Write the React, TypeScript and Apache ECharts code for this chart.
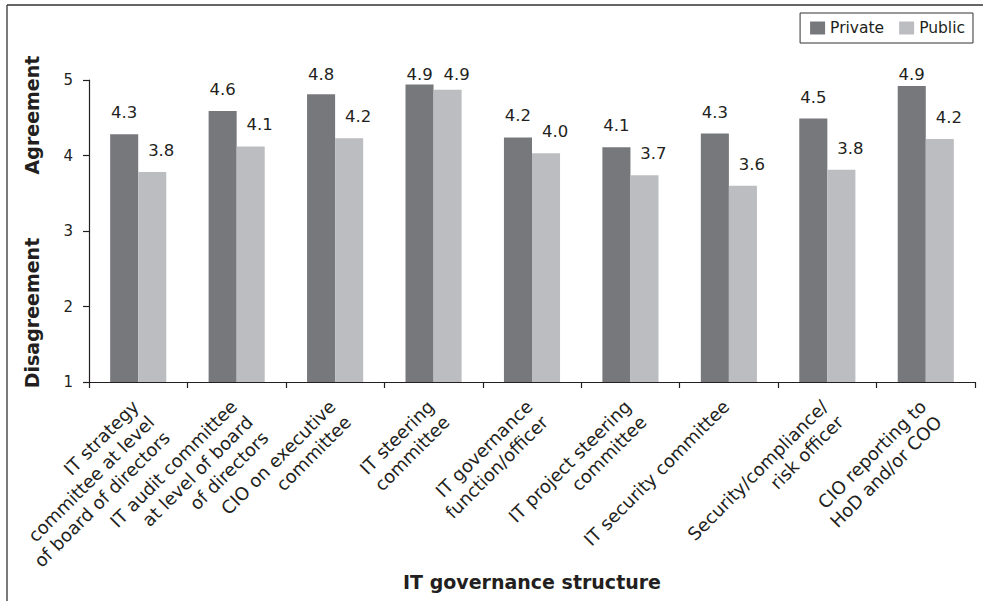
import React, { useEffect, useRef } from "react";
import * as echarts from "echarts";

const categories = [
  "IT strategy\ncommittee at level\nof board of directors",
  "IT audit committee\nat level of board\nof directors",
  "CIO on executive\ncommittee",
  "IT steering\ncommittee",
  "IT governance\nfunction/officer",
  "IT project steering\ncommittee",
  "IT security committee",
  "Security/compliance/\nrisk officer",
  "CIO reporting to\nHoD and/or COO",
];
const privateValues = [4.28, 4.59, 4.81, 4.94, 4.24, 4.11, 4.29, 4.49, 4.92];
const publicValues = [3.78, 4.12, 4.23, 4.87, 4.03, 3.74, 3.6, 3.81, 4.22];
const yTicks = [1, 2, 3, 4, 5];

const FONT = "DejaVu Sans";
const TEXT = "#231f20";
const LABEL_TOP_LIMIT = 66;

const clampLabel = (dx: number) => (p: any) => {
  const r = p.labelRect;
  const out: any = { dx };
  if (r && r.y < LABEL_TOP_LIMIT) out.dy = LABEL_TOP_LIMIT - r.y;
  return out;
};

export default function App() {
  const ref = useRef<HTMLDivElement>(null);
  useEffect(() => {
    if (!ref.current) return;
    const chart = echarts.init(ref.current, null, { renderer: "svg" });
    chart.setOption({
      animation: false,
      backgroundColor: "#ffffff",
      textStyle: { fontFamily: FONT, color: TEXT },
      grid: {
        left: 89,
        right: 8,
        top: 80,
        bottom: 219,
        containLabel: false,
        outerBoundsMode: "none",
      },
      legend: {
        right: 10,
        top: 13,
        padding: [7, 8, 7, 10],
        borderColor: "#333333",
        borderWidth: 1,
        itemWidth: 15,
        itemHeight: 13,
        itemGap: 15,
        icon: "rect",
        textStyle: { fontFamily: FONT, fontSize: 15.5, color: TEXT },
        data: ["Private", "Public"],
      },
      xAxis: {
        type: "category",
        data: categories,
        name: "IT governance structure",
        nameLocation: "middle",
        nameGap: 190,
        nameMoveOverlap: false,
        nameTextStyle: { fontFamily: FONT, fontSize: 19, fontWeight: "bold", color: TEXT },
        axisLine: { lineStyle: { color: TEXT, width: 1.2 } },
        axisTick: { show: true, length: 6, lineStyle: { color: TEXT, width: 1.2 } },
        axisLabel: {
          interval: 0,
          rotate: 45,
          margin: 3,
          align: "right",
          verticalAlign: "top",
          padding: [0, 15, 0, 0],
          fontFamily: FONT,
          fontSize: 18,
          lineHeight: 22,
          color: TEXT,
        },
      },
      yAxis: {
        type: "value",
        min: yTicks[0],
        max: yTicks[yTicks.length - 1],
        interval: 1,
        splitLine: { show: false },
        axisLine: { show: true, lineStyle: { color: TEXT, width: 1.2 } },
        axisTick: { show: true, length: 6, lineStyle: { color: TEXT, width: 1.2 } },
        axisLabel: { margin: 16, fontFamily: FONT, fontSize: 15, color: TEXT },
      },
      series: [
        {
          name: "Private",
          type: "bar",
          data: privateValues,
          barWidth: "28.5%",
          barGap: "0%",
          itemStyle: { color: "#77787b" },
          labelLayout: clampLabel(0),
          label: {
            show: true,
            position: "top",
            distance: 13,
            fontFamily: FONT,
            fontSize: 16.5,
            color: TEXT,
            formatter: (p: any) => Number(p.value).toFixed(1),
          },
        },
        {
          name: "Public",
          type: "bar",
          data: publicValues,
          barWidth: "28.5%",
          barGap: "0%",
          itemStyle: { color: "#bcbdc0" },
          labelLayout: clampLabel(9),
          label: {
            show: true,
            position: "top",
            distance: 13,
            fontFamily: FONT,
            fontSize: 16.5,
            color: TEXT,
            formatter: (p: any) => Number(p.value).toFixed(1),
          },
        },
      ],
      graphic: [
        {
          type: "line",
          shape: { x1: 7, y1: 5, x2: 7, y2: 601 },
          style: { stroke: "#333333", lineWidth: 1.3 },
        },
        {
          type: "line",
          shape: { x1: 7, y1: 5, x2: 983, y2: 5 },
          style: { stroke: "#333333", lineWidth: 1.3 },
        },
        {
          type: "text",
          x: 32,
          y: 115,
          rotation: Math.PI / 2,
          style: {
            text: "Agreement",
            fontFamily: FONT,
            fontSize: 19,
            fontWeight: "bold",
            fill: TEXT,
            align: "center",
            verticalAlign: "middle",
          },
        },
        {
          type: "text",
          x: 32,
          y: 313,
          rotation: Math.PI / 2,
          style: {
            text: "Disagreement",
            fontFamily: FONT,
            fontSize: 19,
            fontWeight: "bold",
            fill: TEXT,
            align: "center",
            verticalAlign: "middle",
          },
        },
      ],
    });
    return () => chart.dispose();
  }, []);
  return (
    <div
      ref={ref}
      style={{ position: "fixed", left: 0, top: 0, width: 983, height: 601, background: "#fff" }}
    />
  );
}
